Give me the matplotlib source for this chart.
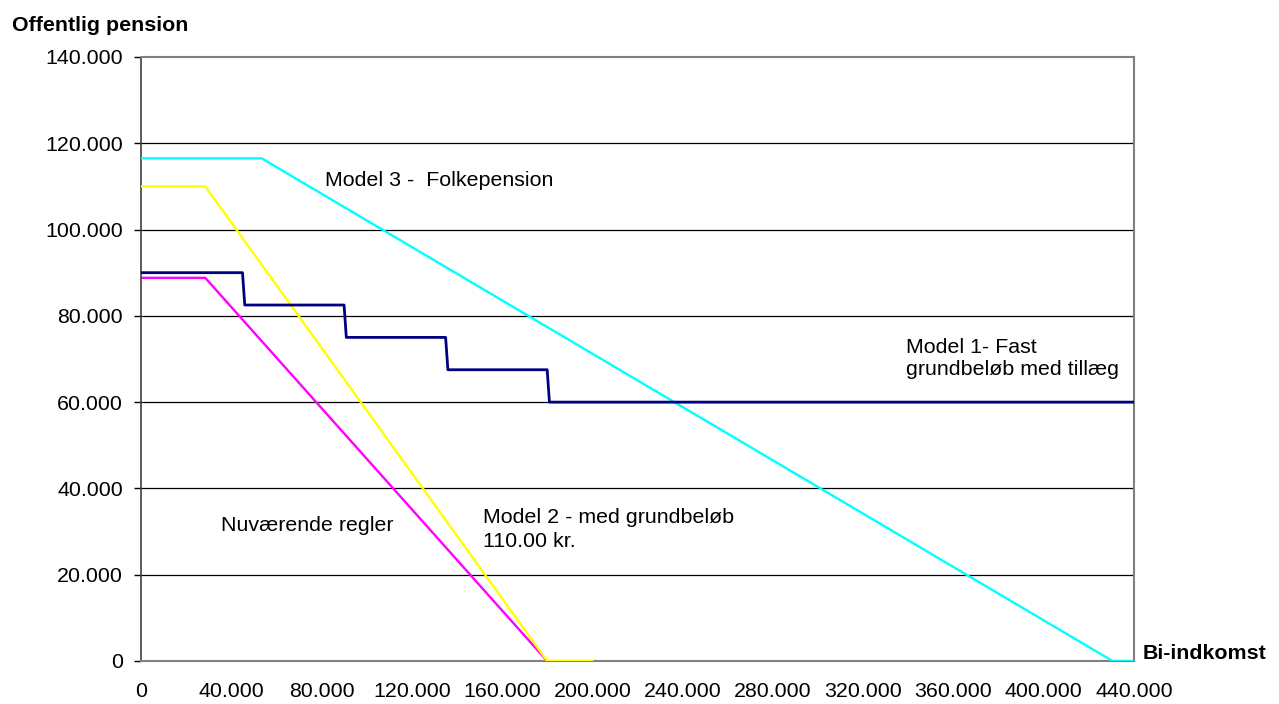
import matplotlib
matplotlib.use("Agg")
import matplotlib.pyplot as plt
from matplotlib.ticker import FuncFormatter

plt.rcParams['font.family'] = ['Liberation Sans', 'DejaVu Sans']

# Bi-indkomst (kr.) and public pension (kr.) for each model
model3_x = [0, 53500, 430500, 440000]
model3_y = [116500, 116500, 0, 0]

model2_x = [0, 28500, 180000, 200000]
model2_y = [110000, 110000, 0, 0]

model1_x = [0, 45000, 46000, 90000, 91000, 135000, 136000, 180000, 181000, 440000]
model1_y = [90000, 90000, 82500, 82500, 75000, 75000, 67500, 67500, 60000, 60000]

current_x = [0, 28500, 180000]
current_y = [88800, 88800, 0]

x_ticks = list(range(0, 440001, 40000))
y_ticks = list(range(0, 140001, 20000))


def dk(v, pos=None):
    return f"{int(v):,}".replace(",", ".")


fig = plt.figure(figsize=(12.79, 7.04), dpi=100)
ax = fig.add_axes([0.1102, 0.0611, 0.7764, 0.8580])

for y in y_ticks[1:-1]:
    ax.axhline(y, color='black', lw=0.9, zorder=1)

ax.plot(model3_x, model3_y, color='#00FFFF', lw=1.7, zorder=3)
ax.plot(model2_x, model2_y, color='#FFFF00', lw=1.7, zorder=3)
ax.plot(current_x, current_y, color='#FF00FF', lw=1.7, zorder=2)
ax.plot(model1_x, model1_y, color='#000080', lw=2.0, zorder=4)

fs = 15.4
ax.set_xlim(0, 440000)
ax.set_ylim(0, 140000)
ax.set_xticks(x_ticks)
ax.set_yticks(y_ticks)
ax.xaxis.set_major_formatter(FuncFormatter(dk))
ax.yaxis.set_major_formatter(FuncFormatter(dk))
ax.tick_params(axis='x', length=0, pad=15, labelsize=fs)
ax.tick_params(axis='y', length=5, width=1, direction='out', pad=8, labelsize=fs)

for side in ['top', 'right', 'bottom']:
    ax.spines[side].set_color('#808080')
    ax.spines[side].set_linewidth(1.5)
ax.spines['left'].set_color('#404040')
ax.spines['left'].set_linewidth(1.2)

ax.text(81500, 110100, "Model 3 -  Folkepension", fontsize=fs, va='baseline', ha='left')
ax.text(339000, 66300, "Model 1- Fast\ngrundbeløb med tillæg", fontsize=fs,
        va='baseline', ha='left', linespacing=1.18)
ax.text(35300, 30100, "Nuværende regler", fontsize=fs, va='baseline', ha='left')
ax.text(151700, 26500, "Model 2 - med grundbeløb\n110.00 kr.", fontsize=fs,
        va='baseline', ha='left', linespacing=1.32)

fig.text(12 / 1279, 1 - 31 / 704, "Offentlig pension", fontsize=fs, fontweight='bold',
         va='baseline', ha='left')
fig.text(1143 / 1279, 1 - 659 / 704, "Bi-indkomst", fontsize=fs, fontweight='bold',
         va='baseline', ha='left')

fig.savefig("out.png", dpi=100)
